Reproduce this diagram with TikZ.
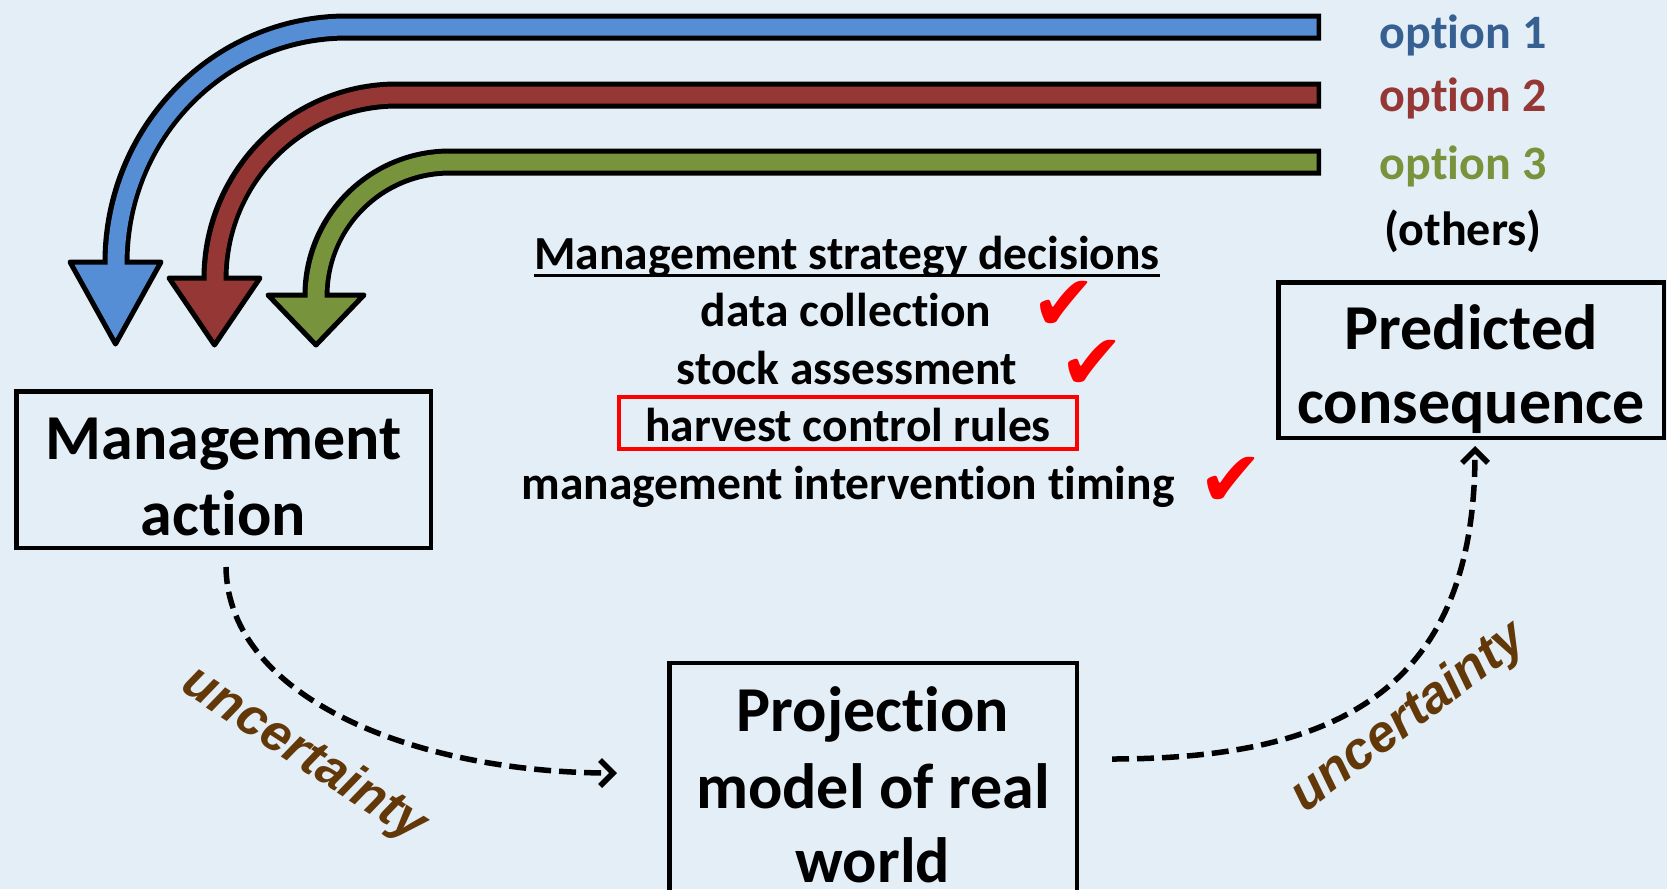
\documentclass[tikz,border=0pt]{standalone}
\usepackage{fontspec}
\setmainfont{Carlito}[Ligatures={NoCommon}]
\newfontfamily\arialfont{Liberation Sans}
\newfontfamily\symfont{DejaVu Sans}
\usetikzlibrary{arrows.meta}
\definecolor{bgc}{HTML}{E3EEF7}
\definecolor{ablue}{HTML}{558ED5}
\definecolor{ared}{HTML}{953735}
\definecolor{agreen}{HTML}{77933C}
\definecolor{tblue}{HTML}{376092}
\definecolor{ubrown}{HTML}{633808}
\definecolor{chk}{HTML}{FF0000}
\begin{document}
\begin{tikzpicture}[x=1pt,y=-1pt,
  boxstyle/.style={draw=black,line width=4.5pt,inner sep=0pt},
  boxtext/.style={font=\fontsize{64}{76}\selectfont\bfseries,anchor=base,inner sep=0pt},
  listtext/.style={font=\fontsize{47.5}{57}\selectfont\bfseries,anchor=base,inner sep=0pt},
  opttext/.style={font=\fontsize{48}{57}\selectfont\bfseries,anchor=base,inner sep=0pt},
  unc/.style={font=\fontsize{52}{60}\selectfont\arialfont\bfseries\itshape,text=ubrown,inner sep=0pt},
  checkmark/.style={font=\fontsize{78}{80}\selectfont\symfont,text=chk,inner sep=0pt},
  bandout/.style={draw=black,line width=27pt},
  headstyle/.style={draw=black,line width=5pt,line join=round},
  dasharrow/.style={draw=black,line width=5.5pt,dash pattern=on 17pt off 8pt,
     -{Straight Barb[length=13pt,width=26pt]}},
]
\useasboundingbox (0,0) rectangle (1667,889);
\clip (0,0) rectangle (1667,889);
\fill[bgc] (0,0) rectangle (1667,889);

% blue band
\draw[bandout] (1321,27) -- (347,27) .. controls (219.4,27) and (116,132.2) .. (116,262);
\filldraw[headstyle,fill=ablue] (70,262) -- (161,262) -- (115.5,344) -- cycle;
\draw[ablue,line width=17pt] (1316.5,27) -- (347,27) .. controls (219.4,27) and (116,132.2) .. (116,265);
% red band
\draw[bandout] (1321,95) -- (397,95) .. controls (296.5,95) and (215,177) .. (215,278);
\filldraw[headstyle,fill=ared] (169,278) -- (260,278) -- (214.5,345) -- cycle;
\draw[ared,line width=17pt] (1316.5,95) -- (397,95) .. controls (296.5,95) and (215,177) .. (215,281);
% green band
\draw[bandout] (1321,162) -- (450,162) .. controls (376,162) and (316,221.5) .. (316,295);
\filldraw[headstyle,fill=agreen] (268,295) -- (364,295) -- (316,345) -- cycle;
\draw[agreen,line width=17pt] (1316.5,162) -- (450,162) .. controls (376,162) and (316,221.5) .. (316,298);

% options
\node[opttext,text=tblue] (o1) at (1463,48) {option 1};
\node[opttext,text=ared] (o2) at (1463,111) {option 2};
\node[opttext,text=agreen] (o3) at (1463,179) {option 3};
\node[opttext] (o4) at (1463,245) {(others)};

% boxes
\node[boxstyle,minimum width=414.5pt,minimum height=156.5pt] (ma) at (223.5,469.5) {};
\node[boxtext] (ma1) at (223.5,459) {Management};
\node[boxtext] (ma2) at (223.5,535) {action};

\node[boxstyle,minimum width=385.5pt,minimum height=155.5pt] (pc) at (1471,360) {};
\node[boxtext] (pc1) at (1471,349) {Predicted};
\node[boxtext] (pc2) at (1471,423) {consequence};

\node[boxstyle,minimum width=407.5pt,minimum height=337pt] (pm) at (873,831.5) {};
\node[boxtext] (pm1) at (873,731) {Projection};
\node[boxtext] (pm2) at (873,808) {model of real};
\node[boxtext] (pm3) at (873,882) {world};

% list
\node[listtext] (msd) at (847,269) {Management strategy decisions};
\draw[line width=3pt] ([yshift=-6pt]msd.base west) -- ([yshift=-6pt]msd.base east);
\node[listtext] (dc) at (846,326) {data collection};
\node[listtext] (sa) at (847,384) {stock assessment};
\node[draw=chk,line width=4pt,minimum width=458pt,minimum height=52pt,inner sep=0pt] (hcbox) at (848,423) {};
\node[listtext] (hc) at (848,441) {harvest control rules};
\node[listtext] (mit) at (848,499) {management intervention timing};

\node[checkmark] (c1) at (1064,306) {✔};
\node[checkmark] (c2) at (1092,365) {✔};
\node[checkmark] (c3) at (1231,482) {✔};

% dashed arrows
\coordinate (d1s) at (226,567);
\coordinate (d1e) at (617,773);
\draw[dasharrow] (d1s) .. controls (228,700) and (420,773) .. (d1e);
\coordinate (d2s) at (1112,759);
\coordinate (d2e) at (1475,446);
\draw[dasharrow] (d2s) .. controls (1350,759) and (1475,680) .. (d2e);

\node[unc,rotate=-33] (u1) at (304,755) {uncertainty};
\node[unc,rotate=37] (u2) at (1409,718) {uncertainty};
\end{tikzpicture}
\end{document}
